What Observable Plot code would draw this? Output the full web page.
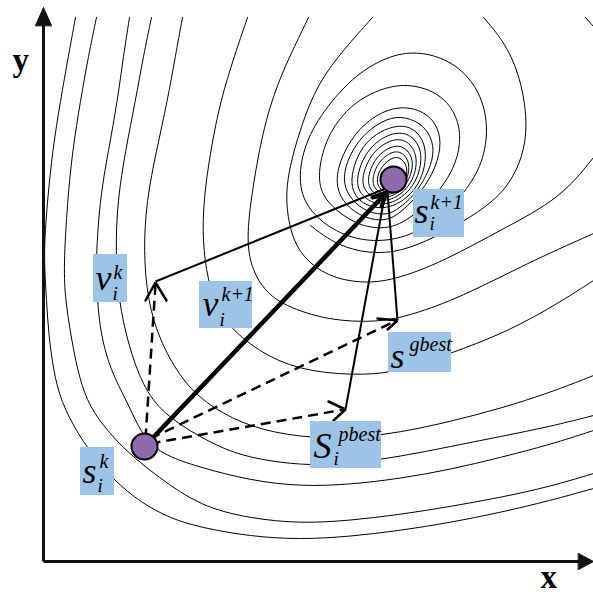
<!DOCTYPE html>
<html><head><meta charset="utf-8">
<script src="https://cdn.jsdelivr.net/npm/d3@7"></script>
<script src="https://cdn.jsdelivr.net/npm/@observablehq/plot@0.6"></script>
<style>body{margin:0;background:#fff}</style>
</head><body><div id="chart"></div>
<script>
// ---- open contour lines (pixel-like units) ----
const contourA = [[75,17],[68,55],[60,100],[52,150],[47,200],[44,240],[44,267],[46,300],[48,333],[53,370],[60,400],[78,435],[98,462],[114,480],[140,502],[170,518],[200,527],[250,536],[300,539],[350,536],[400,530],[450,522],[500,512],[550,500],[593,488]];
const contourB = [[96,17],[88,55],[80,100],[72,150],[67,200],[63,267],[65,300],[70,333],[77,370],[86,400],[102,425],[127,452],[157,476],[200,506],[250,518],[300,523],[350,520],[400,514],[450,506],[500,497],[550,486],[593,473]];
const contourC = [[129,17],[123,55],[117,100],[108,150],[99,200],[95,267],[97,300],[100,333],[110,370],[126,400],[137,425],[150,445],[170,457],[200,467],[250,480],[300,486],[350,484],[400,478],[450,469],[500,457],[550,444],[593,430]];
const contourD = [[151,17],[143,55],[135,100],[125,150],[117,200],[115,250],[118,300],[128,345],[142,385],[162,413],[200,437],[233,453],[270,461],[310,465],[350,463],[400,456],[450,446],[500,436],[550,426],[593,415]];
const contourE = [[182,17],[175,55],[167,100],[156,150],[146,200],[143,250],[147,300],[160,343],[185,385],[213,408],[250,427],[300,437],[350,438],[400,432],[450,421],[500,408],[550,392],[593,375]];
const contourF = [[247,17],[234,55],[220,100],[210,150],[203,200],[202,240],[207,280],[218,310],[232,330],[267,357],[310,372],[367,375],[400,370],[450,353],[500,334],[540,313],[570,295],[593,280]];
const contourG = [[308,17],[292,50],[277,83],[262,130],[250,200],[246,243],[252,270],[264,290],[283,305],[327,320],[377,322],[410,315],[460,297],[526,263],[593,233]];
const contourH = [[372,17],[344,48],[317,83],[300,127],[288,170],[285,200],[290,233],[302,257],[327,276],[360,283],[393,280],[443,261],[503,228],[560,198],[593,157]];
const contourX = [[483,17],[503,40],[519,73],[527,117],[524,150],[513,177],[495,200],[460,223],[426,241],[393,253],[360,252],[332,242],[310,225]];
const contourY = [[585,17],[593,26]];

// ---- closed contours around the optimum ----
const ring1 = [[416,50],[452,60],[478,87],[488,122],[484,158],[468,188],[440,218],[405,238],[368,242],[335,232],[310,212],[298,188],[301,152],[318,116],[352,76],[386,56]];
const ring2 = [[410,83],[440,93],[457,115],[461,142],[453,170],[434,197],[410,218],[388,229],[360,226],[336,211],[319,192],[318,166],[328,132],[351,103],[382,87]];
const ring3 = [[403,105],[426,112],[438,127],[441,147],[433,173],[417,196],[400,212],[386,221],[364,218],[345,205],[335,187],[338,162],[354,132],[378,112]];
const ring4 = [[400,115],[420,122],[431,136],[434,154],[426,176],[412,197],[398,208],[387,215],[367,212],[351,200],[342,183],[346,160],[361,135],[382,120]];
const ring5 = [[398,122],[418,130],[428,152],[419,189],[388,211],[359,204],[347,182],[362,139]];
const ring6 = [[397,129],[415,137],[423,156],[415,187],[388,207],[364,200],[353,182],[367,145]];
const ring7 = [[396,136],[411,143],[418,160],[411,186],[388,203],[368,196],[359,181],[371,150]];
const ring8 = [[395,143],[408,149],[414,163],[407,185],[389,199],[373,194],[365,181],[375,155]];
const ring9 = [[394,149],[405,154],[410,166],[405,185],[389,196],[377,192],[370,181],[378,160]];
const ring10 = [[394,155],[403,159],[408,170],[403,184],[390,194],[380,190],[375,180],[381,165]];

// ---- particles ----
const particleX = [144, 393];
const particleY = [446, 179];

// ---- vectors: [x1, y1, x2, y2] ----
const dashedVectors = [[145,438,155,284],[150,443,344,409],[150,438,396,320]];
const solidVectors = [[155,281,390,186],[345,409,385,191],[397,320,387,191]];
const thickVector = [[144,446,386,192]];
const arrowHeads = [
  [[145,300],[155,282],[166,300]],
  [[328,401],[345,409],[333,420]],
  [[377,318],[397,320],[387,329]]
];
const thickHead = [[[372,197],[386,192],[381,206]]];

// ---- axes ----
const axisLines = [[43,561,43,24],[43,561,580,561]];
const axisHeads = [[[35,25],[43,7],[51,25]],[[578,553],[593,561],[578,569]]];
const axisNames = ["y","x"];
const axisNameX = [12, 540];
const axisNameY = [70, 587];

// ---- label boxes [x1, y1, x2, y2] ----
const labelBoxes = [[93,254,127,302],[199,281,252,328],[413,189,464,237],[388,332,451,372],[310,421,381,468],[80,447,114,495]];
const baseText = ["v","v","s","s","S","s"];
const baseX = [95, 202, 414, 390, 313, 82];
const baseY = [289, 315, 222, 367, 457, 482];
const supText = ["k","k+1","k+1","gbest","pbest","k"];
const supX = [113, 221, 430, 409, 338, 99];
const supY = [278, 300, 208, 350, 440, 467];
const subText = ["i","i","i","i","i"];
const subX = [112, 219, 429, 333, 97];
const subY = [299, 325, 229, 464, 491];

// ---- build tables ----
const rows = (list, prefix) => list.flatMap((pts, i) => pts.map(([x, y]) => ({x, y, id: prefix + i})));
const openRows = rows([contourA, contourB, contourC, contourD, contourE, contourF, contourG, contourH, contourX, contourY], "o");
const closedRows = rows([ring1, ring2, ring3, ring4, ring5, ring6, ring7, ring8, ring9, ring10], "c");
const seg = (list) => list.map(([x1, y1, x2, y2]) => ({x1, y1, x2, y2}));
const particles = particleX.map((x, i) => ({x, y: particleY[i]}));
const boxes = labelBoxes.map(([x1, y1, x2, y2]) => ({x1, y1, x2, y2}));
const base = baseText.map((t, i) => ({t, x: baseX[i], y: baseY[i]}));
const sup = supText.map((t, i) => ({t, x: supX[i], y: supY[i]}));
const sub = subText.map((t, i) => ({t, x: subX[i], y: subY[i]}));
const axisLabels = axisNames.map((t, i) => ({t, x: axisNameX[i], y: axisNameY[i]}));

const serif = "'Liberation Serif', 'Times New Roman', serif";

const plot = Plot.plot({
  width: 593, height: 595, margin: 0,
  x: {domain: [0, 593], range: [0, 593], axis: null},
  y: {domain: [0, 595], range: [0, 595], axis: null},
  style: {background: "white", overflow: "visible"},
  marks: [
    Plot.line(openRows, {x: "x", y: "y", z: "id", curve: "basis", stroke: "black", strokeWidth: 1}),
    Plot.line(closedRows, {x: "x", y: "y", z: "id", curve: "basis-closed", stroke: "black", strokeWidth: 1}),
    Plot.link(seg(axisLines), {x1: "x1", y1: "y1", x2: "x2", y2: "y2", stroke: "#111", strokeWidth: 3}),
    Plot.line(rows(axisHeads, "a"), {x: "x", y: "y", z: "id", curve: "linear-closed", fill: "#111", stroke: "#111", strokeWidth: 1}),
    Plot.link(seg(dashedVectors), {x1: "x1", y1: "y1", x2: "x2", y2: "y2", stroke: "black", strokeWidth: 2.5, strokeDasharray: "10,6"}),
    Plot.link(seg(solidVectors), {x1: "x1", y1: "y1", x2: "x2", y2: "y2", stroke: "black", strokeWidth: 2}),
    Plot.link(seg(thickVector), {x1: "x1", y1: "y1", x2: "x2", y2: "y2", stroke: "black", strokeWidth: 4.5}),
    Plot.line(rows(arrowHeads, "h"), {x: "x", y: "y", z: "id", stroke: "black", strokeWidth: 2.5, strokeLinejoin: "miter"}),
    Plot.line(rows(thickHead, "t"), {x: "x", y: "y", z: "id", stroke: "black", strokeWidth: 4, strokeLinejoin: "miter"}),
    Plot.dot(particles, {x: "x", y: "y", r: 13, fill: "#8e69ae", stroke: "black", strokeWidth: 2}),
    Plot.rect(boxes, {x1: "x1", x2: "x2", y1: "y1", y2: "y2", fill: "#9dc3e6"}),
    Plot.text(base, {x: "x", y: "y", text: "t", textAnchor: "start", lineAnchor: "bottom", fontSize: 36, fontStyle: "italic", fontFamily: serif, fill: "black"}),
    Plot.text(sup, {x: "x", y: "y", text: "t", textAnchor: "start", lineAnchor: "bottom", fontSize: 20, fontStyle: "italic", fontFamily: serif, fill: "black"}),
    Plot.text(sub, {x: "x", y: "y", text: "t", textAnchor: "start", lineAnchor: "bottom", fontSize: 19, fontStyle: "italic", fontFamily: serif, fill: "black"}),
    Plot.text(axisLabels, {x: "x", y: "y", text: "t", textAnchor: "start", lineAnchor: "bottom", fontSize: 33, fontWeight: "bold", fontFamily: serif, fill: "black"})
  ]
});
document.getElementById("chart").append(plot);
</script>
</body></html>
